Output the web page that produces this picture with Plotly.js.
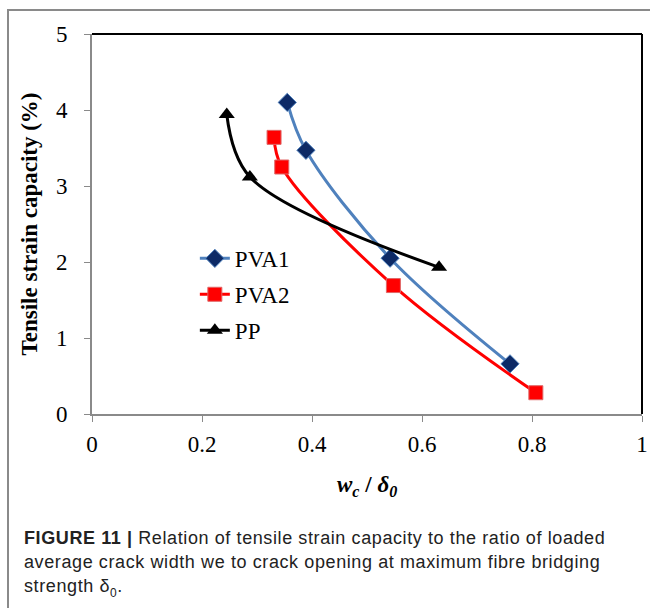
<!DOCTYPE html>
<html>
<head>
<meta charset="utf-8">
<script src="https://cdn.plot.ly/plotly-3.0.1.min.js"></script>
<style>
  html, body { margin: 0; padding: 0; background: #fff; width: 650px; height: 608px; overflow: hidden; }
  #frame { position: absolute; left: 7px; top: 9px; width: 650px; height: 610px; border-left: 2px solid #8a8a8a; border-top: 2px solid #8a8a8a; }
  #chart { position: absolute; left: 0; top: 0; width: 650px; height: 500px; }
  .cap { position: absolute; left: 24px; font-family: "Liberation Sans", Arial, sans-serif; font-size: 18px; letter-spacing: 0.6px; color: #222; white-space: nowrap; }
</style>
</head>
<body>
<div id="frame"></div>
<div id="chart"></div>
<div class="cap" style="top:528px"><b>FIGURE 11 |</b> Relation of tensile strain capacity to the ratio of loaded</div>
<div class="cap" style="top:552px">average crack width we to crack opening at maximum fibre bridging</div>
<div class="cap" style="top:576px">strength δ<sub style="font-size:12px">0</sub>.</div>
<script>
const seriesNames = ["PVA1", "PVA2", "PP"];
const pva1X = [0.355, 0.389, 0.542, 0.760];
const pva1Y = [4.10, 3.47, 2.05, 0.66];
const pva2X = [0.331, 0.345, 0.548, 0.807];
const pva2Y = [3.64, 3.25, 1.69, 0.28];
const ppX = [0.245, 0.287, 0.631];
const ppY = [3.94, 3.12, 1.93];
const xTicks = [0, 0.2, 0.4, 0.6, 0.8, 1];
const xTickText = ["0", "0.2", "0.4", "0.6", "0.8", "1"];
const yTicks = [0, 1, 2, 3, 4, 5];
const yTickText = ["0", "1", "2", "3", "4", "5"];

const serif = "Liberation Serif, Times New Roman, serif";

const traces = [
  { x: pva1X, y: pva1Y, name: seriesNames[0], legendgroup: "a", mode: "lines+markers",
    line: { color: "#4f81bd", width: 3, shape: "spline", smoothing: 1 },
    marker: { symbol: "diamond", size: 14, color: "#0d2a66", line: { color: "#4f81bd", width: 1 } } },
  { x: pva2X, y: pva2Y, name: seriesNames[1], legendgroup: "b", mode: "lines+markers",
    line: { color: "#ff0000", width: 3, shape: "spline", smoothing: 1 },
    marker: { symbol: "square", size: 14, color: "#ff0000", line: { color: "#e06666", width: 1 } } },
  { x: ppX, y: ppY, name: seriesNames[2], legendgroup: "c", mode: "lines+markers",
    line: { color: "#000000", width: 3, shape: "spline", smoothing: 1 },
    marker: { symbol: "triangle-up", size: 14, color: "#000000" } }
];

const layout = {
  width: 650, height: 500,
  margin: { l: 92, r: 8, t: 34, b: 86 },
  paper_bgcolor: "rgba(0,0,0,0)", plot_bgcolor: "#fff",
  showlegend: true,
  legend: { x: 0.187, y: 0.466, xanchor: "left", yanchor: "top", bgcolor: "rgba(0,0,0,0)",
    font: { family: serif, size: 23, color: "#000" }, tracegroupgap: 3, traceorder: "grouped" },
  xaxis: { range: [0, 1], tickvals: xTicks, ticktext: xTickText, ticks: "outside", ticklen: 6, tickwidth: 1, tickcolor: "#8a8a8a",
    showline: true, linecolor: "#8a8a8a", linewidth: 2, showgrid: false, zeroline: false,
    tickfont: { family: serif, size: 23, color: "#000" }, ticklabelstandoff: 2 },
  yaxis: { range: [0, 5], tickvals: yTicks, ticktext: yTickText, ticks: "outside", ticklen: 6, tickwidth: 1, tickcolor: "#8a8a8a",
    showline: true, linecolor: "#8a8a8a", linewidth: 2, showgrid: false, zeroline: false,
    tickfont: { family: serif, size: 23, color: "#000" }, ticklabelstandoff: 12,
    title: { text: "<b>Tensile strain capacity (%)</b>", font: { family: serif, size: 23, color: "#000" }, standoff: 12 } },
  shapes: [
    { type: "line", xref: "paper", yref: "paper", x0: 0, x1: 1, y0: 1, y1: 1, line: { color: "#000", width: 2 } },
    { type: "line", xref: "paper", yref: "paper", x0: 1, x1: 1, y0: 0, y1: 1, line: { color: "#000", width: 2 } }
  ],
  annotations: [
    { xref: "paper", yref: "paper", x: 0.5, y: -0.19, xanchor: "center", yanchor: "middle", showarrow: false,
      text: "<b><i>w<sub>c</sub></i> / <i>δ<sub>0</sub></i></b>", font: { family: serif, size: 23, color: "#000" } }
  ]
};

Plotly.newPlot("chart", traces, layout, { displayModeBar: false, staticPlot: true });
</script>
</body>
</html>
